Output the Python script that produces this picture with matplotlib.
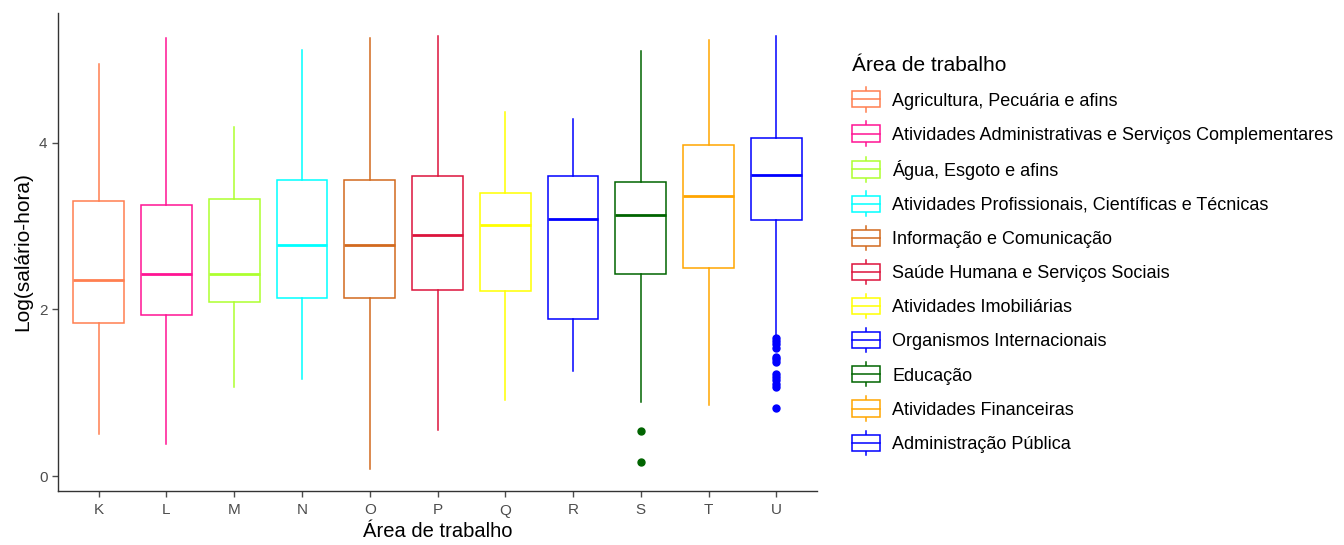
import numpy as np
import matplotlib
matplotlib.use('Agg')
import matplotlib.pyplot as plt
from matplotlib.legend_handler import HandlerBase
from matplotlib.patches import Rectangle
from matplotlib.lines import Line2D

plt.rcParams['font.family'] = ['Liberation Sans', 'DejaVu Sans']

# dados
letras = ['K', 'L', 'M', 'N', 'O', 'P', 'Q', 'R', 'S', 'T', 'U']
areas = ['Agricultura, Pecuária e afins',
         'Atividades Administrativas e Serviços Complementares',
         'Água, Esgoto e afins',
         'Atividades Profissionais, Científicas e Técnicas',
         'Informação e Comunicação',
         'Saúde Humana e Serviços Sociais',
         'Atividades Imobiliárias',
         'Organismos Internacionais',
         'Educação',
         'Atividades Financeiras',
         'Administração Pública']
cores = ['#FF7F50', '#FF1493', '#ADFF2F', '#00FFFF', '#D2691E', '#DC143C',
         '#FFFF00', '#0000FF', '#006400', '#FFA500', '#0000FF']

whis_lo = [0.50, 0.38, 1.07, 1.16, 0.08, 0.55, 0.91, 1.26, 0.89, 0.85, 1.69]
q1 = [1.84, 1.93, 2.09, 2.14, 2.14, 2.23, 2.22, 1.88, 2.43, 2.50, 3.08]
mediana = [2.35, 2.43, 2.43, 2.77, 2.78, 2.90, 3.02, 3.09, 3.13, 3.36, 3.61]
q3 = [3.30, 3.26, 3.33, 3.55, 3.55, 3.60, 3.40, 3.60, 3.53, 3.97, 4.06]
whis_hi = [4.95, 5.26, 4.19, 5.12, 5.26, 5.28, 4.37, 4.29, 5.10, 5.24, 5.28]
outliers = [[], [], [], [], [], [], [], [], [0.54, 0.17], [],
            [1.66, 1.62, 1.58, 1.54, 1.43, 1.40, 1.37,
             1.23, 1.19, 1.15, 1.11, 1.07, 0.82]]


class HandlerCaixa(HandlerBase):
    def __init__(self, cor, **kw):
        super().__init__(**kw)
        self.cor = cor

    def create_artists(self, legend, orig_handle, xdescent, ydescent,
                       width, height, fontsize, trans):
        bh = height * 1.0
        y0 = (height - bh) / 2 - ydescent
        x0 = -xdescent
        ext = height * 0.25
        rect = Rectangle((x0, y0), width, bh, facecolor='white',
                         edgecolor=self.cor, lw=1.1, transform=trans)
        meio = Line2D([x0, x0 + width], [y0 + bh / 2] * 2, color=self.cor,
                      lw=1.1, transform=trans)
        xc = x0 + width / 2
        cima = Line2D([xc, xc], [y0 + bh, y0 + bh + ext],
                      color=self.cor, lw=1.1, transform=trans)
        baixo = Line2D([xc, xc], [y0, y0 - ext],
                       color=self.cor, lw=1.1, transform=trans)
        return [cima, baixo, rect, meio]


fig = plt.figure(figsize=(13.44, 5.45), dpi=100)
ax = fig.add_axes([58 / 1344, 1 - 491 / 545, (817 - 58) / 1344, (491 - 13) / 545])

stats = []
for i in range(len(letras)):
    stats.append(dict(med=mediana[i], q1=q1[i], q3=q3[i],
                      whislo=whis_lo[i], whishi=whis_hi[i],
                      fliers=outliers[i], label=letras[i]))

posicoes = np.arange(1, len(letras) + 1)
res = ax.bxp(stats, positions=posicoes, widths=0.75, showcaps=False,
             patch_artist=True)
for i, cor in enumerate(cores):
    res['boxes'][i].set(facecolor='white', edgecolor=cor, linewidth=1.1)
    res['medians'][i].set(color=cor, linewidth=2.0)
    res['whiskers'][2 * i].set(color=cor, linewidth=1.1)
    res['whiskers'][2 * i + 1].set(color=cor, linewidth=1.1)
    res['fliers'][i].set(marker='o', markerfacecolor=cor, markeredgecolor=cor,
                         markersize=5)

ax.set_xlim(0.4, len(letras) + 0.6)
ax.set_ylim(-0.18, 5.56)
ax.set_yticks([0, 2, 4])
ax.set_xticks(posicoes)
ax.set_xticklabels(letras)
ax.tick_params(colors='#4D4D4D', labelsize=11, length=4, width=1)
ax.tick_params(axis='x', pad=5)
for s in ['top', 'right']:
    ax.spines[s].set_visible(False)
for s in ['left', 'bottom']:
    ax.spines[s].set_color('#333333')
    ax.spines[s].set_linewidth(1.0)

ax.set_xlabel('Área de trabalho', fontsize=14.5, labelpad=3)
ax.set_ylabel('Log(salário-hora)', fontsize=15, labelpad=5)

handles = [Rectangle((0, 0), 1, 1) for _ in areas]
hmap = {h: HandlerCaixa(c) for h, c in zip(handles, cores)}
leg = fig.legend(handles, areas, handler_map=hmap, loc='upper left',
                 bbox_to_anchor=(838 / 1344, 1 - 42 / 545), frameon=False,
                 fontsize=13, title='Área de trabalho', title_fontsize=15,
                 labelspacing=0.88, handlelength=1.55, handleheight=1.0,
                 handletextpad=0.65, borderpad=0.3)
leg._legend_box.align = 'left'

fig.savefig('out.png', dpi=100)
